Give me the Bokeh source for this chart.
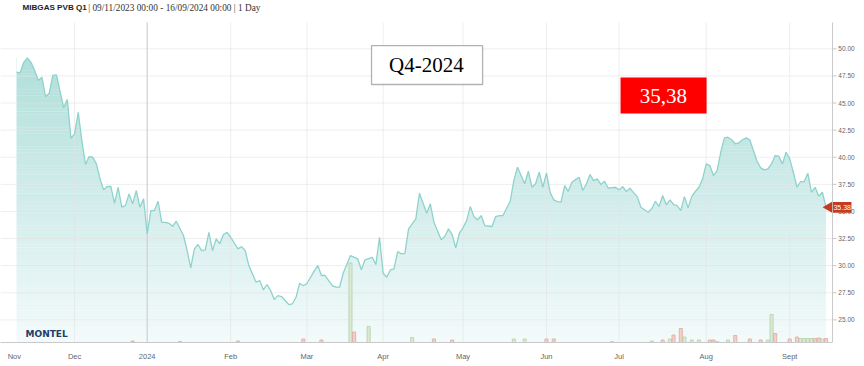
import numpy as np
from bokeh.plotting import figure
from bokeh.models import Range1d, FixedTicker, Label, BoxAnnotation
from bokeh.core.properties import value
from bokeh.embed import file_html
from bokeh.resources import INLINE

# ---- data: trading-day index (0 = 09/11/2023) and settlement price EUR/MWh ----
day = [0, 1, 2, 3, 4, 5, 6, 7, 8, 9, 10, 11, 13, 14, 15, 16, 17, 18, 19, 20, 21, 22, 23, 24, 25,
       26, 27, 28, 29, 30, 31,
       32, 33, 34, 35, 36, 37, 38, 39, 40, 41, 42, 43, 44, 46, 47, 48, 49, 50, 51, 52, 53, 54, 55,
       56, 57, 58, 59, 61, 62, 63, 64, 65, 66, 67, 68, 69, 70, 71, 72, 73, 75, 76, 77,
       78, 79, 80, 82, 83, 84, 85, 87, 88, 89, 90, 92, 94, 95, 96, 98, 99, 100, 101, 102, 103, 104,
       105, 106, 107, 108, 110, 111, 113, 114, 115, 117, 118, 119, 120, 121, 122, 123, 124, 125,
       126, 127, 128, 129, 131, 132, 133, 134, 136, 137, 138, 140, 141, 142, 143, 144, 145, 146,
       147, 148, 149, 150,
       151, 152, 153, 154, 155, 156, 157, 158, 159, 160, 161, 162, 163, 164, 165, 166, 167, 168,
       169, 170, 171, 172, 174, 175, 176, 177, 178, 179, 180, 181, 182, 183, 184, 185, 186, 187,
       188, 189, 190, 191, 192, 193, 194, 195, 196, 197, 198, 199, 200, 201, 202, 204, 205, 206,
       207, 208, 209, 210, 211, 212, 213, 214, 215, 216, 217, 218, 219, 220, 221, 222, 223]
price = [47.84, 47.79, 48.76, 49.17, 48.76, 48.00, 47.08, 47.38, 45.60, 45.90, 47.54, 47.60,
         44.56, 45.32, 41.75, 42.16, 44.15, 41.54, 39.33, 40.06, 40.00, 39.39, 38.01, 36.99,
         37.32, 37.30, 35.76, 37.23, 35.39, 35.54, 36.62,
         35.70, 36.93, 35.39, 36.16, 32.93, 35.08, 35.08, 35.94, 34.00, 34.00, 33.91, 33.63,
         34.10, 32.78, 31.39, 29.80, 31.55, 31.95, 31.39, 31.46, 33.08, 31.39, 32.47, 32.01,
         32.87, 33.08, 32.62, 31.55, 31.76, 31.39, 30.01, 29.24, 28.47, 28.63, 27.77, 28.26,
         27.70, 26.87, 27.24, 27.15, 26.41, 26.48, 27.08,
         28.38, 28.14, 28.35, 29.50, 30.01, 29.09, 29.09, 28.16, 28.01, 28.01, 29.30, 30.93,
         30.63, 29.61, 30.54, 30.77, 30.10, 32.62, 29.30, 28.93, 29.61, 29.70, 31.30, 31.09,
         31.14, 33.39, 34.32, 36.68, 34.83, 35.70, 34.00, 32.38, 32.71, 33.39, 32.87, 31.64,
         32.99, 33.49, 34.16, 35.45, 34.53, 34.23, 34.62, 33.70, 33.61, 34.53, 34.62, 34.62,
         35.94, 37.85, 39.08, 37.55, 38.71, 37.23, 37.55, 38.62, 37.23, 38.56, 36.77, 36.07,
         35.91, 35.85,
         37.39, 36.86, 37.69, 37.94, 38.15, 36.93, 37.55, 38.40, 37.85, 38.01, 37.48, 37.79,
         37.14, 37.20, 37.23, 36.99, 37.30, 36.84, 37.14, 36.74, 36.37, 35.39, 34.93, 35.24,
         35.94, 35.45, 36.47, 35.61, 36.07, 35.64, 35.54, 35.08, 36.37, 35.33, 36.37, 36.84,
         37.23, 38.01, 39.39, 39.23, 38.31, 38.77, 40.46, 41.79, 41.85, 41.61, 41.24, 41.33,
         41.61, 41.79, 41.61, 39.63, 39.02, 38.84, 38.93, 39.39, 40.16, 40.09, 39.39, 40.46,
         39.85, 38.62, 37.23, 37.76, 37.76, 38.52, 36.77, 37.23, 36.40, 36.77, 35.38]

# traded volume bars (arbitrary units) and direction (+1 up / -1 down)
vol_day = [32, 45, 61, 79, 84, 92, 93, 97, 109, 115, 120, 137, 140, 146, 148, 164, 175, 178,
           180, 181, 183, 184, 186, 188, 191, 192, 193, 196, 198, 202, 205, 207, 208, 209, 213,
           215, 216, 217, 218, 219, 220, 221, 222, 223]
vol_amt = [1.5, 1, 1.5, 3.5, 2.5, 79.5, 10.5, 16, 5, 3.5, 2.5, 3.5, 3.5, 3.5, 3.5, 1, 1.5, 2.5,
           3.5, 7.5, 14, 5.5, 2.5, 2.5, 2.5, 2.5, 1, 2.5, 7, 3.5, 2.5, 2.5, 28, 9, 3.5,
           5.5, 4, 4, 4, 4, 4, 4.5, 3.5, 4]
vol_dir = [-1, -1, -1, -1, -1, 1, -1, 1, 1, -1, -1, 1, 1, -1, -1, 1, 1, -1,
           1, -1, -1, 1, 1, 1, -1, -1, 1, 1, -1, -1, -1, 1, 1, -1, -1,
           -1, 1, 1, 1, 1, -1, -1, 1, -1]

tick_day = [-0.6, 16, 36, 59, 80, 101, 123, 146, 166, 190, 213]
tick_lbl = ["Nov", "Dec", "2024", "Feb", "Mar", "Apr", "May", "Jun", "Jul", "Aug", "Sept"]
y_ticks = [25.0, 27.5, 30.0, 32.5, 35.0, 37.5, 40.0, 42.5, 45.0, 47.5, 50.0]

contract = "Q4-2024"
last_label = "35,38"
header_bold = "MIBGAS PVB Q1"
header_rest = "| 09/11/2023 00:00 - 16/09/2024 00:00 | 1 Day"

# ---- layout constants (ranges) ----
Y0, Y1 = 22.91, 54.46          # frame bottom / top
Y_TOP = 52.43                  # top of plotting area
X0, X1 = -4.41, 231.4          # frame left / right
X_AXIS = 224.8                 # right value axis position
TICK = 1.1

p = figure(frame_width=856, frame_height=342,
           x_range=Range1d(X0, X1), y_range=Range1d(Y0, Y1),
           output_backend="svg", toolbar_location=None,
           min_border_left=0, min_border_right=0, min_border_top=0, min_border_bottom=0,
           background_fill_color="white", border_fill_color="white", outline_line_color=None)
p.extra_y_ranges = {"vol": Range1d(0, 342)}
p.yaxis.visible = False
p.xgrid.visible = False
p.ygrid.visible = False

# gradient area: horizontal colour bands, then white mask above the price line
n = 90
top_val = max(price)
edges = np.linspace(Y0, top_val, n + 1)
c_top = np.array([176, 223, 219])
c_bot = np.array([243, 250, 251])
cols = []
for i in range(n):
    t = (edges[i] + edges[i + 1]) / 2
    f = (t - Y0) / (top_val - Y0)
    c = c_bot + (c_top - c_bot) * f
    cols.append("#%02x%02x%02x" % tuple(int(round(v)) for v in c))
p.quad(left=min(day), right=max(day), bottom=edges[:-1], top=edges[1:] + 0.02,
       fill_color=cols, line_color=None)
p.varea(x=day, y1=price, y2=Y1, fill_color="white")

# grid lines
p.segment(x0=X0, x1=X_AXIS, y0=y_ticks, y1=y_ticks, line_color="#e2e2e2", line_alpha=0.6)
p.segment(x0=tick_day[1:], x1=tick_day[1:], y0=Y0, y1=Y_TOP, line_color="#e2e2e2", line_alpha=0.6)
p.segment(x0=[tick_day[2]], x1=[tick_day[2]], y0=Y0, y1=Y_TOP, line_color="#cccccc", line_width=1)

# volume bars
vfill = ["#dbead3" if d > 0 else "#f3d0ca" for d in vol_dir]
vline = ["#b3d0a6" if d > 0 else "#dfa79c" for d in vol_dir]
p.vbar(x=vol_day, top=vol_amt, bottom=0, width=0.85, y_range_name="vol",
       fill_color=vfill, line_color=vline, line_width=0.8)

# price line
p.line(day, price, line_color="#8ed3cb", line_width=1.3)

# right value axis
p.segment(x0=[X_AXIS], x1=[X_AXIS], y0=Y0, y1=Y_TOP, line_color="#c9c9c9")
p.segment(x0=X_AXIS, x1=X_AXIS + TICK, y0=y_ticks, y1=y_ticks, line_color="#c9c9c9")
p.text(x=X_AXIS + 1.6, y=y_ticks, text=["%.2f" % v for v in y_ticks],
       text_font=value("Liberation Sans"), text_font_size="6.5px", text_baseline="middle",
       text_align="left", text_color="#666666")

# last price tag on the axis
p.quad(left=X_AXIS + 0.1, right=X_AXIS + 5.2, bottom=price[-1] - 0.5, top=price[-1] + 0.5,
       fill_color="#c23b22", line_color=None)
p.scatter(x=[X_AXIS - 1.0], y=[price[-1]], marker="triangle", angle=np.pi / 2,
          size=11, fill_color="#c23b22", line_color=None)
p.text(x=[X_AXIS + 2.65], y=[price[-1]], text=["%.2f" % price[-1]],
       text_font=value("Liberation Sans"), text_font_size="7px", text_baseline="middle",
       text_align="center", text_color="white")

# x axis (months)
p.xaxis.ticker = FixedTicker(ticks=tick_day)
p.xaxis.major_label_overrides = {t: l for t, l in zip(tick_day, tick_lbl)}
p.xaxis.bounds = (X0, X_AXIS)
p.xaxis.axis_line_color = "#c9c9c9"
p.xaxis.major_tick_line_color = None
p.xaxis.minor_tick_line_color = None
p.xaxis.major_label_text_font = "Liberation Sans"
p.xaxis.major_label_text_font_size = "7.5px"
p.xaxis.major_label_text_color = "#666666"
p.xaxis.major_label_standoff = 3

# header
p.add_layout(Label(x=1.65, y=53.81, text=header_bold, text_font="Liberation Sans",
                   text_font_style="bold", text_font_size="8.1px", text_baseline="middle",
                   text_color="#222222"))
p.add_layout(Label(x=19.75, y=53.81, text=header_rest,
                   text_font="Liberation Serif", text_font_size="9.3px", text_baseline="middle",
                   text_color="#333333"))

# logo
p.add_layout(Label(x=2.5, y=23.74, text="MONTEL", text_font="DejaVu Sans",
                   text_font_style="bold", text_font_size="9px", text_baseline="middle",
                   text_color="#1d3d6b"))

# annotation boxes
p.add_layout(BoxAnnotation(left=97.8, right=128.4, bottom=46.71, top=50.30,
                           fill_color="white", fill_alpha=1, line_color="black", line_width=1.3))
p.add_layout(Label(x=112.9, y=48.51, text=contract, text_align="center", text_baseline="middle",
                   text_font="Liberation Serif", text_font_size="21px", text_color="black"))
p.add_layout(BoxAnnotation(left=166.4, right=190.1, bottom=44.03, top=47.35,
                           fill_color="#ff0000", fill_alpha=1, line_color=None))
p.add_layout(Label(x=178.2, y=45.69, text=last_label, text_align="center", text_baseline="middle",
                   text_font="Liberation Serif", text_font_size="21px", text_color="white"))

open("out.html", "w").write(file_html(p, INLINE))
